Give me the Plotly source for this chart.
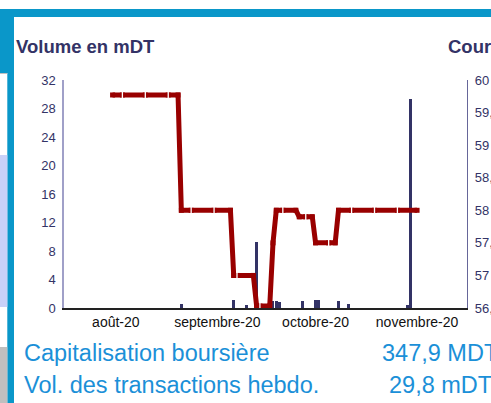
import plotly.graph_objects as go
import pandas as pd

# ---------------- data ----------------
vol_dates = ['2020-08-21', '2020-09-06', '2020-09-10', '2020-09-13', '2020-09-18',
             '2020-09-19', '2020-09-20', '2020-09-27', '2020-10-01', '2020-10-02',
             '2020-10-08', '2020-10-11', '2020-10-29', '2020-10-30']
vol_values = [0.56, 1.1, 0.4, 9.3, 1.05, 0.95, 0.9, 1.0, 1.1, 1.1, 1.0, 0.6, 0.4, 29.4]

price_dates = ['2020-07-31', '2020-08-03', '2020-08-10', '2020-08-17', '2020-08-20',
               '2020-08-21', '2020-08-24', '2020-08-31', '2020-09-05', '2020-09-06',
               '2020-09-07', '2020-09-12', '2020-09-13', '2020-09-14', '2020-09-17',
               '2020-09-18', '2020-09-19', '2020-09-21', '2020-09-25', '2020-09-26',
               '2020-09-28', '2020-09-30', '2020-10-01', '2020-10-05', '2020-10-07',
               '2020-10-08', '2020-10-12', '2020-10-19', '2020-10-26', '2020-11-01']
price_values = [59.77, 59.77, 59.77, 59.77, 59.77,
                58.0, 58.0, 58.0, 58.0, 57.0,
                57.0, 57.0, 56.53, 56.53, 56.53,
                57.5, 58.0, 58.0, 58.0, 57.9,
                57.9, 57.9, 57.5, 57.5, 57.5,
                58.0, 58.0, 58.0, 58.0, 58.0]

month_ticks = ['2020-08-01', '2020-09-01', '2020-10-01', '2020-11-01']
month_labels = ['août-20', 'septembre-20', 'octobre-20', 'novembre-20']

left_ticks = [0, 4, 8, 12, 16, 20, 24, 28, 32]
right_ticks = [56.5, 57, 57.5, 58, 58.5, 59, 59.5, 60]
right_labels = ['56,5', '57', '57,5', '58', '58,5', '59', '59,5', '60']

title_left = 'Volume en mDT'
title_right = 'Cours en DT'
info_labels = ['Capitalisation boursière', 'Vol. des transactions hebdo.']
info_values = ['347,9 MDT', '29,8 mDT']

# ---------------- geometry helpers ----------------
W, H = 491, 403
L, R, T, B = 64, 24, 80, 95
PW, PH = W - L - R, H - T - B


def px(x):
    return (x - L) / PW


def py(y):
    return (H - B - y) / PH


NAVY = '#333366'
RED = '#990000'
BLUE = '#0a97c9'
TXTBLUE = '#1b90d8'
FONT = 'Liberation Sans, Arial, sans-serif'

pdf = pd.DataFrame({'d': pd.to_datetime(price_dates), 'v': price_values})
mondays = pdf[(pdf['d'].dt.weekday == 0) & (pdf.index > 0) & (pdf.index < len(pdf) - 1)]

fig = go.Figure()
fig.add_trace(go.Bar(
    x=vol_dates, y=vol_values, marker=dict(color=NAVY, line=dict(width=0)),
    width=[0.85 * 86400000] * len(vol_dates), yaxis='y'))
fig.add_trace(go.Scatter(
    x=pdf['d'], y=pdf['v'], mode='lines+markers', yaxis='y2',
    line=dict(color=RED, width=5),
    marker=dict(symbol='square', size=5, color=RED)))
fig.add_trace(go.Scatter(
    x=mondays['d'], y=mondays['v'], mode='markers', yaxis='y2',
    marker=dict(symbol='line-ns', size=6, line=dict(color='white', width=1.3))))

shapes = [
    dict(x0=px(0), x1=px(W), y0=py(17), y1=py(9), fillcolor=BLUE),
    dict(x0=px(0), x1=px(14), y0=py(73), y1=py(9), fillcolor=BLUE),
    dict(x0=px(7.3), x1=px(14), y0=py(H), y1=py(73), fillcolor=BLUE),
    dict(x0=px(0), x1=px(7.3), y0=py(307), y1=py(155), fillcolor='#c9d1f8'),
    dict(x0=px(0), x1=px(7.3), y0=py(H), y1=py(347), fillcolor='#bfbfbf'),
]
for s in shapes:
    s.update(type='rect', xref='paper', yref='paper', line=dict(width=0), layer='below')
shapes.append(dict(type='line', xref='paper', yref='paper', x0=px(0), x1=px(7.3),
                   y0=py(73.5), y1=py(73.5), line=dict(color='#c0c0c0', width=1)))

annotations = [
    dict(text='<b>' + title_left + '</b>', x=px(15), y=py(46.8), xanchor='left', yanchor='middle',
         font=dict(size=18.5, color=NAVY, family=FONT)),
    dict(text='<b>' + title_right + '</b>', x=px(447), y=py(46.8), xanchor='left', yanchor='middle',
         font=dict(size=18.5, color=NAVY, family=FONT)),
    dict(text=info_labels[0], x=px(23), y=py(352.5), xanchor='left', yanchor='middle',
         font=dict(size=23.5, color=TXTBLUE, family=FONT)),
    dict(text=info_values[0], x=px(381), y=py(352.5), xanchor='left', yanchor='middle',
         font=dict(size=23.5, color=TXTBLUE, family=FONT)),
    dict(text=info_labels[1], x=px(23), y=py(384.5), xanchor='left', yanchor='middle',
         font=dict(size=23.5, color=TXTBLUE, family=FONT)),
    dict(text=info_values[1], x=px(388), y=py(384.5), xanchor='left', yanchor='middle',
         font=dict(size=23.5, color=TXTBLUE, family=FONT)),
]
for a in annotations:
    a.update(xref='paper', yref='paper', showarrow=False, borderpad=0)

fig.update_layout(
    width=W, height=H, margin=dict(l=L, r=R, t=T, b=B, pad=0, autoexpand=False),
    plot_bgcolor='white', paper_bgcolor='white', showlegend=False,
    bargap=0, font=dict(family=FONT),
    shapes=shapes, annotations=annotations,
    xaxis=dict(type='date', range=['2020-07-16 04:00', '2020-11-16 06:00'],
               tickvals=month_ticks, ticktext=month_labels, ticks='',
               showline=True, linecolor='#222222', linewidth=1.5,
               showgrid=False, zeroline=False, automargin=False,
               tickfont=dict(size=14, color='#111111', family=FONT)),
    yaxis=dict(range=[0, 32], tickvals=left_ticks, ticks='',
               showline=True, linecolor='#a0a0c8', linewidth=1.5,
               showgrid=False, zeroline=False, ticklabelstandoff=4, automargin=False,
               tickfont=dict(size=13, color=NAVY, family=FONT)),
    yaxis2=dict(range=[56.5, 60], overlaying='y', side='right',
                tickvals=right_ticks, ticktext=right_labels, ticks='',
                showline=True, linecolor='#666699', linewidth=1.2,
                showgrid=False, zeroline=False, ticklabelstandoff=4, automargin=False,
                tickfont=dict(size=13, color=NAVY, family=FONT)),
)

fig.write_html('out.html', config={'displayModeBar': False},
               post_script="document.body.style.margin='0';document.body.style.overflow='hidden';")
